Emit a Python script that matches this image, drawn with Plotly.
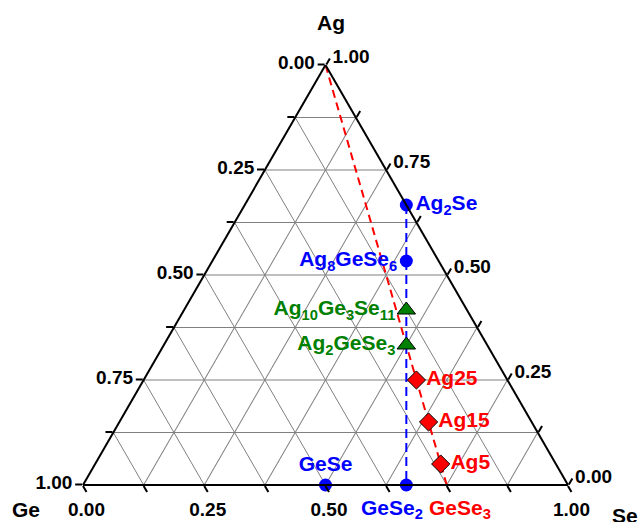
import plotly.graph_objects as go

# Phase compositions (mole fractions) in the Ag-Ge-Se system
compounds = ["Ag<sub>2</sub>Se", "Ag<sub>8</sub>GeSe<sub>6</sub>", "GeSe"]
comp_ag = [2/3, 8/15, 0.0]
comp_ge = [0.0, 1/15, 0.5]
comp_se = [1/3, 6/15, 0.5]
comp_pos = ["middle right", "middle left", "top center"]

ternaries = ["Ag<sub>10</sub>Ge<sub>3</sub>Se<sub>11</sub>", "Ag<sub>2</sub>GeSe<sub>3</sub>"]
tern_ag = [10/24, 2/6]
tern_ge = [3/24, 1/6]
tern_se = [11/24, 3/6]

# Glasses along the Ag - GeSe3 join
glasses = ["Ag25", "Ag15", "Ag5"]
glass_ag = [0.25, 0.15, 0.05]
glass_ge = [0.1875, 0.2125, 0.2375]
glass_se = [0.5625, 0.6375, 0.7125]

# Binary end members on the Ge-Se edge
edge_names = ["GeSe<sub>2</sub>", "GeSe<sub>3</sub>"]
edge_ag = [0.0, 0.0]
edge_ge = [1/3, 0.25]
edge_se = [2/3, 0.75]
edge_colors = ["#0000ff", "#ff0000"]
edge_shift = [-14, 13]

# Tie lines
join_red_ag = [1.0, edge_ag[1]]
join_red_ge = [0.0, edge_ge[1]]
join_red_se = [0.0, edge_se[1]]
join_blue_ag = [comp_ag[0], edge_ag[0]]
join_blue_ge = [comp_ge[0], edge_ge[0]]
join_blue_se = [comp_se[0], edge_se[0]]

grid_vals = [i / 8 for i in range(9)]
major_text = ["0.00", "", "0.25", "", "0.50", "", "0.75", "", "1.00"]
# along the Ge-Se edge the 0.75 label gives way to the compound names
bottom_text = ["0.00", "", "0.25", "", "0.50", "", "", "", "1.00"]

FONT = "Liberation Sans, Arial, sans-serif"
BLUE = "#0000ff"
GREEN = "#008000"
RED = "#ff0000"
LABEL_SIZE = 21

fig = go.Figure()

fig.add_trace(go.Scatterternary(
    a=join_red_ag, b=join_red_ge, c=join_red_se, mode="lines",
    line=dict(color=RED, width=2, dash="8px,5px"), hoverinfo="skip"))
fig.add_trace(go.Scatterternary(
    a=join_blue_ag, b=join_blue_ge, c=join_blue_se, mode="lines",
    line=dict(color=BLUE, width=2, dash="9px,5px"), hoverinfo="skip"))

fig.add_trace(go.Scatterternary(
    a=comp_ag, b=comp_ge, c=comp_se, mode="markers+text",
    text=compounds, textposition=comp_pos, cliponaxis=False,
    marker=dict(symbol="circle", size=13, color=BLUE),
    textfont=dict(family=FONT, size=LABEL_SIZE, color=BLUE, weight="bold")))

fig.add_trace(go.Scatterternary(
    a=edge_ag[:1], b=edge_ge[:1], c=edge_se[:1], mode="markers",
    cliponaxis=False, marker=dict(symbol="circle", size=13, color=BLUE)))

fig.add_trace(go.Scatterternary(
    a=tern_ag, b=tern_ge, c=tern_se, mode="markers+text",
    text=ternaries, textposition="middle left", cliponaxis=False,
    marker=dict(symbol="triangle-up", size=16, color=GREEN,
                line=dict(color="#000000", width=1)),
    textfont=dict(family=FONT, size=LABEL_SIZE, color=GREEN, weight="bold")))

fig.add_trace(go.Scatterternary(
    a=glass_ag, b=glass_ge, c=glass_se, mode="markers+text",
    text=glasses, textposition="middle right", cliponaxis=False,
    marker=dict(symbol="diamond", size=14, color=RED,
                line=dict(color="#000000", width=1)),
    textfont=dict(family=FONT, size=LABEL_SIZE, color=RED, weight="bold")))

# Edge labels show the complementary fraction of each edge
axis_common = dict(
    tickmode="array", tickvals=grid_vals,
    title=dict(text=""),
    linecolor="#000000", linewidth=2,
    gridcolor="#808080", gridwidth=1,
    ticks="outside", ticklen=7, tickcolor="#000000", tickwidth=1.5,
    tickfont=dict(family=FONT, size=19, color="#000000", weight="bold"),
    min=0,
)

title_font = dict(family=FONT, size=21, color="#000000", weight="bold")
corner_titles = [
    dict(text="Ag", x=0.511, y=1.102),
    dict(text="Ge", x=-0.1175, y=-0.058),
    dict(text="Se", x=1.1175, y=-0.072),
]
annotations = [dict(text=t["text"], x=t["x"], y=t["y"], xref="paper", yref="paper",
                    xanchor="center", yanchor="middle", showarrow=False,
                    font=title_font) for t in corner_titles]

# Names below the Ge-Se edge; the triangle fills the paper area, so the
# horizontal paper position of a composition is c + a/2.
for name, a, c, col, dx in zip(edge_names, edge_ag, edge_se, edge_colors, edge_shift):
    annotations.append(dict(
        text=name, x=c + a / 2, y=a, xref="paper", yref="paper",
        xanchor="center", yanchor="top", yshift=-9, xshift=dx, showarrow=False,
        font=dict(family=FONT, size=LABEL_SIZE, color=col, weight="bold")))

fig.update_layout(
    width=640, height=522,
    paper_bgcolor="white", plot_bgcolor="white",
    showlegend=False,
    margin=dict(l=83, r=72, t=65, b=37),
    ternary=dict(
        sum=1,
        bgcolor="white",
        aaxis=dict(axis_common, ticktext=major_text[::-1]),
        baxis=dict(axis_common, ticktext=bottom_text[::-1]),
        caxis=dict(axis_common, ticktext=major_text[::-1]),
    ),
    annotations=annotations,
)

fig.write_html("out.html")
